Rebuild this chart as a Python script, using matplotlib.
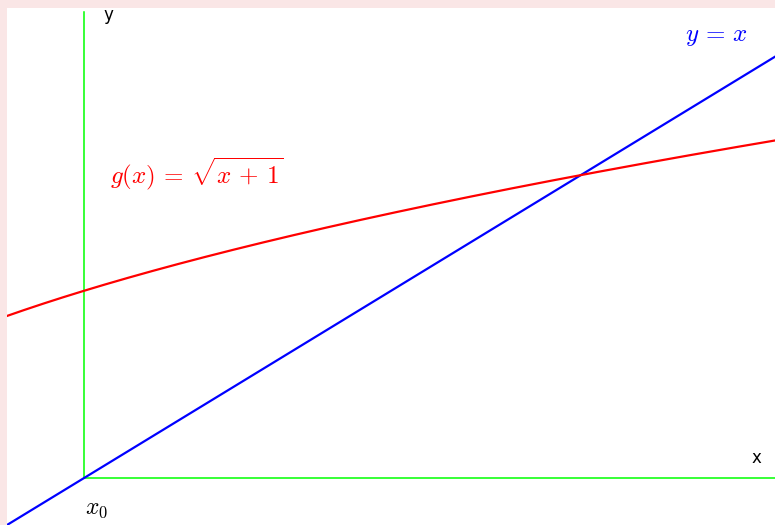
import numpy as np
import matplotlib
matplotlib.use("Agg")
import matplotlib.pyplot as plt

plt.rcParams['mathtext.fontset'] = 'cm'

# plot range and curves
x_min, x_max = -0.25, 2.25
y_min, y_max = -0.25, 2.51
x_axis_end = 2.25
y_axis_end = 2.49
xs = np.linspace(x_min, x_max, 400)

fig = plt.figure(figsize=(7.75, 5.25), dpi=100)
fig.patch.set_facecolor('#fae6e6')
ax = fig.add_axes([7 / 775, 0, 1 - 7 / 775, 1 - 8 / 525])
ax.set_facecolor('white')

# axes drawn as green lines from the origin
ax.plot([0, x_axis_end], [0, 0], color='#00ff00', lw=1.1)
ax.plot([0, 0], [0, y_axis_end], color='#00ff00', lw=1.1)

ax.plot(xs, xs, color='#0000ff', lw=1.6)
ax.plot(xs, np.sqrt(xs + 1), color='#ff0000', lw=1.6)

ax.text(0.065, 2.475, 'y', fontsize=12, ha='left', va='center')
ax.text(2.19, 0.107, 'x', fontsize=12, ha='center', va='center')
ax.text(0.04, -0.16, r'$x_0$', fontsize=17, ha='center', va='center')
ax.text(2.06, 2.36, r'$y\,=\,x$', fontsize=18, color='#0000ff', ha='center', va='center')
ax.text(0.368, 1.625, r'$g(x)\,=\,\sqrt{x\,+\,1}$', fontsize=18, color='#ff0000',
        ha='center', va='center')

ax.set_xlim(x_min, x_max)
ax.set_ylim(y_min, y_max)
for side in ax.spines.values():
    side.set_visible(False)
ax.set_xticks([])
ax.set_yticks([])

fig.savefig('out.png', dpi=100, facecolor=fig.get_facecolor())
